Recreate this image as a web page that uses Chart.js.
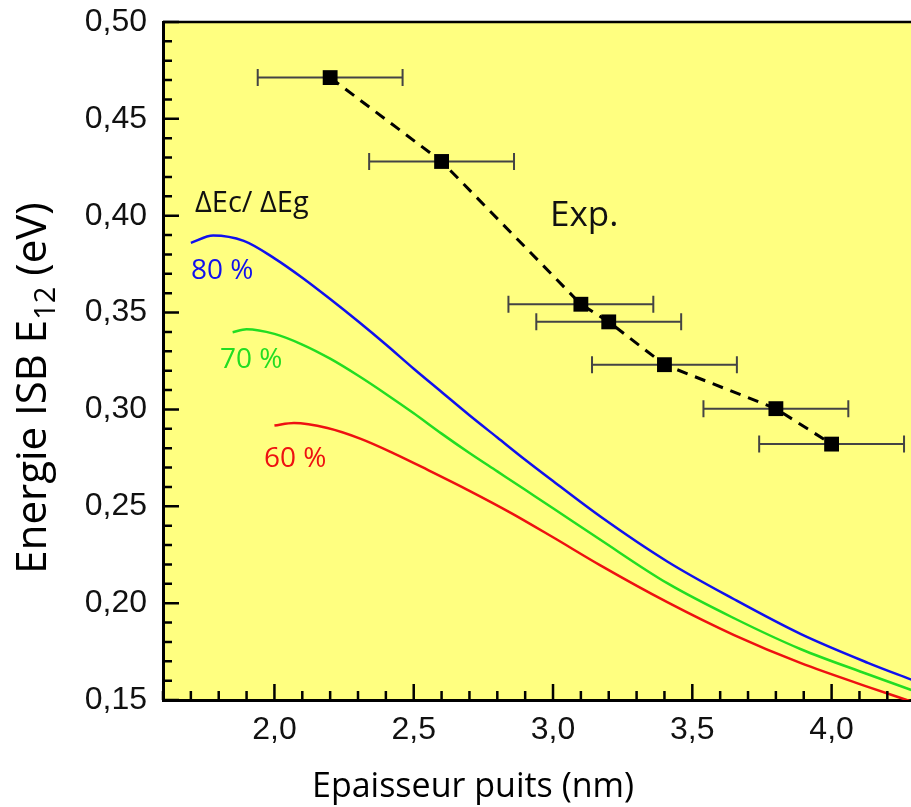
<!DOCTYPE html>
<html>
<head>
<meta charset="utf-8">
<script src="https://cdn.jsdelivr.net/npm/chart.js@4"></script>
<style>
  html, body { margin: 0; padding: 0; background: #fff; overflow: hidden; }
  #wrap { width: 911px; height: 807px; }
</style>
</head>
<body>
<div id="wrap"><canvas id="chart"></canvas></div>
<script>
// data
const blueX = [1.70, 1.78, 1.89, 2.00, 2.10, 2.20, 2.30, 2.40, 2.50, 2.60, 2.70, 2.80, 2.90, 3.00, 3.17, 3.41, 3.65, 3.89, 4.13, 4.29];
const blueY = [0.386, 0.3898, 0.387, 0.378, 0.368, 0.357, 0.3455, 0.3335, 0.321, 0.309, 0.297, 0.2855, 0.274, 0.263, 0.2447, 0.2215, 0.2020, 0.1840, 0.1692, 0.1603];
const greenX = [1.85, 1.90, 2.00, 2.10, 2.20, 2.30, 2.40, 2.50, 2.60, 2.70, 2.80, 2.90, 3.00, 3.17, 3.41, 3.65, 3.89, 4.13, 4.29];
const greenY = [0.3398, 0.3414, 0.339, 0.3335, 0.3262, 0.3175, 0.308, 0.298, 0.2875, 0.2775, 0.268, 0.2585, 0.249, 0.2327, 0.2103, 0.1922, 0.1762, 0.1633, 0.1550];
const redX = [2.00, 2.07, 2.19, 2.31, 2.43, 2.55, 2.70, 2.85, 3.00, 3.17, 3.41, 3.65, 3.89, 4.13, 4.28];
const redY = [0.2917, 0.2930, 0.2904, 0.2848, 0.2772, 0.2688, 0.258, 0.2465, 0.234, 0.2195, 0.2005, 0.1835, 0.169, 0.1568, 0.1495];
const expX = [2.2, 2.6, 3.1, 3.2, 3.4, 3.8, 4.0];
const expY = [0.4713, 0.428, 0.3543, 0.3452, 0.3231, 0.3004, 0.2821];
const expErr = [0.26, 0.26, 0.26, 0.26, 0.26, 0.26, 0.26];
const xTicks = [2.0, 2.5, 3.0, 3.5, 4.0];
const yTicks = [0.15, 0.20, 0.25, 0.30, 0.35, 0.40, 0.45, 0.50];

const pts = (xs, ys) => xs.map((x, i) => ({ x: x, y: ys[i] }));

const tickFont = { family: "'Liberation Sans', Arial, sans-serif", size: 32 };
const txtFont = "'Open Sans', sans-serif";

const decor = {
  id: 'decor',
  beforeDraw(chart) {
    const a = chart.chartArea, ctx = chart.ctx;
    ctx.save();
    ctx.fillStyle = '#ffff80';
    ctx.fillRect(a.left, a.top, a.right - a.left, a.bottom - a.top);
    ctx.restore();
  },
  beforeDatasetsDraw(chart) {
    // horizontal error bars
    const ctx = chart.ctx, sx = chart.scales.x, sy = chart.scales.y;
    ctx.save();
    ctx.strokeStyle = '#444';
    ctx.lineWidth = 2;
    expX.forEach((x, i) => {
      const y = sy.getPixelForValue(expY[i]);
      const x1 = sx.getPixelForValue(x - expErr[i]);
      const x2 = sx.getPixelForValue(x + expErr[i]);
      ctx.beginPath();
      ctx.moveTo(x1, y); ctx.lineTo(x2, y);
      ctx.moveTo(x1, y - 8.5); ctx.lineTo(x1, y + 8.5);
      ctx.moveTo(x2, y - 8.5); ctx.lineTo(x2, y + 8.5);
      ctx.stroke();
    });
    ctx.restore();
  },
  afterDraw(chart) {
    const a = chart.chartArea, ctx = chart.ctx, sx = chart.scales.x, sy = chart.scales.y;
    ctx.save();
    ctx.strokeStyle = '#000';
    ctx.lineWidth = 2.5;
    // top frame
    ctx.beginPath();
    ctx.moveTo(a.left, a.top); ctx.lineTo(a.right, a.top);
    ctx.stroke();
    // inward ticks
    ctx.beginPath();
    for (let k = 16; k <= 42; k++) {
      const v = k / 10;
      if (v < sx.min || v > sx.max) continue;
      const p = sx.getPixelForValue(v);
      const len = (k % 5 === 0) ? 16 : 9;
      ctx.moveTo(p, a.bottom); ctx.lineTo(p, a.bottom - len);
    }
    for (let k = 15; k <= 50; k++) {
      const p = sy.getPixelForValue(k / 100);
      const len = (k % 5 === 0) ? 16 : 9;
      ctx.moveTo(a.left, p); ctx.lineTo(a.left + len, p);
    }
    ctx.stroke();

    // x tick labels
    ctx.fillStyle = '#111';
    ctx.font = tickFont.size + "px " + tickFont.family;
    ctx.textAlign = 'center';
    ctx.textBaseline = 'top';
    xTicks.forEach(v => {
      ctx.fillText(v.toFixed(1).replace('.', ','), sx.getPixelForValue(v), a.bottom + 14);
    });

    ctx.fillStyle = '#000';
    ctx.textBaseline = 'alphabetic';
    // x title
    ctx.font = "34px " + txtFont;
    ctx.fillText('Epaisseur puits (nm)', 473, 797);

    // y title with subscript
    ctx.save();
    ctx.translate(46, 388);
    ctx.rotate(-Math.PI / 2);
    const big = "42px " + txtFont, small = "29px " + txtFont;
    const parts = [['Energie ISB E', big, 0], ['12', small, 9], [' (eV)', big, 0]];
    let total = 0;
    parts.forEach(p => { ctx.font = p[1]; total += ctx.measureText(p[0]).width; });
    let cx = -total / 2;
    ctx.textAlign = 'left';
    parts.forEach(p => {
      ctx.font = p[1];
      ctx.fillText(p[0], cx, p[2]);
      cx += ctx.measureText(p[0]).width;
    });
    ctx.restore();

    // annotations
    ctx.textAlign = 'left';
    ctx.font = "29px " + txtFont;
    ctx.fillStyle = '#111';
    ctx.fillText('\u0394Ec/ \u0394Eg', 195, 212);
    ctx.font = "28px " + txtFont;
    ctx.fillStyle = '#1010ee';
    ctx.fillText('80 %', 191, 279);
    ctx.fillStyle = '#22dd22';
    ctx.fillText('70 %', 220, 368);
    ctx.fillStyle = '#ee1111';
    ctx.fillText('60 %', 264, 467);
    ctx.fillStyle = '#111';
    ctx.font = "35px " + txtFont;
    ctx.fillText('Exp.', 550, 226);
    ctx.restore();
  }
};

const curve = (data, color) => ({
  data: data,
  showLine: true,
  borderColor: color,
  borderWidth: 2.5,
  pointRadius: 0,
  cubicInterpolationMode: 'monotone',
  fill: false
});

new Chart(document.getElementById('chart'), {
  type: 'scatter',
  data: {
    datasets: [
      curve(pts(blueX, blueY), '#1010ee'),
      curve(pts(greenX, greenY), '#22dd22'),
      curve(pts(redX, redY), '#ee1111'),
      {
        data: pts(expX, expY),
        showLine: true,
        borderColor: '#000',
        borderWidth: 3,
        borderDash: [11, 8],
        tension: 0,
        pointStyle: 'rect',
        pointRadius: 10.5,
        pointBackgroundColor: '#000',
        pointBorderColor: '#000',
        pointBorderWidth: 0
      }
    ]
  },
  options: {
    responsive: true,
    maintainAspectRatio: false,
    animation: false,
    layout: { autoPadding: false, padding: { top: 22, right: 0, left: 0, bottom: 0 } },
    plugins: { legend: { display: false }, tooltip: { enabled: false } },
    scales: {
      x: {
        type: 'linear',
        min: 1.6,
        max: 4.285,
        afterBuildTicks: s => { s.ticks = xTicks.map(v => ({ value: v })); },
        afterFit: s => { s.height = 107; s.paddingLeft = 0; s.paddingRight = 0; },
        grid: { display: false, drawTicks: false },
        border: { display: true, color: '#000', width: 3 },
        ticks: { display: false }
      },
      y: {
        type: 'linear',
        min: 0.15,
        max: 0.50,
        afterBuildTicks: s => { s.ticks = yTicks.map(v => ({ value: v })); },
        afterFit: s => { s.width = 163; s.paddingTop = 0; s.paddingBottom = 0; },
        grid: { display: false, drawTicks: false },
        border: { display: true, color: '#000', width: 3 },
        ticks: {
          color: '#111',
          font: tickFont,
          padding: 16,
          callback: v => v.toFixed(2).replace('.', ',')
        }
      }
    }
  },
  plugins: [decor]
});
</script>
</body>
</html>
